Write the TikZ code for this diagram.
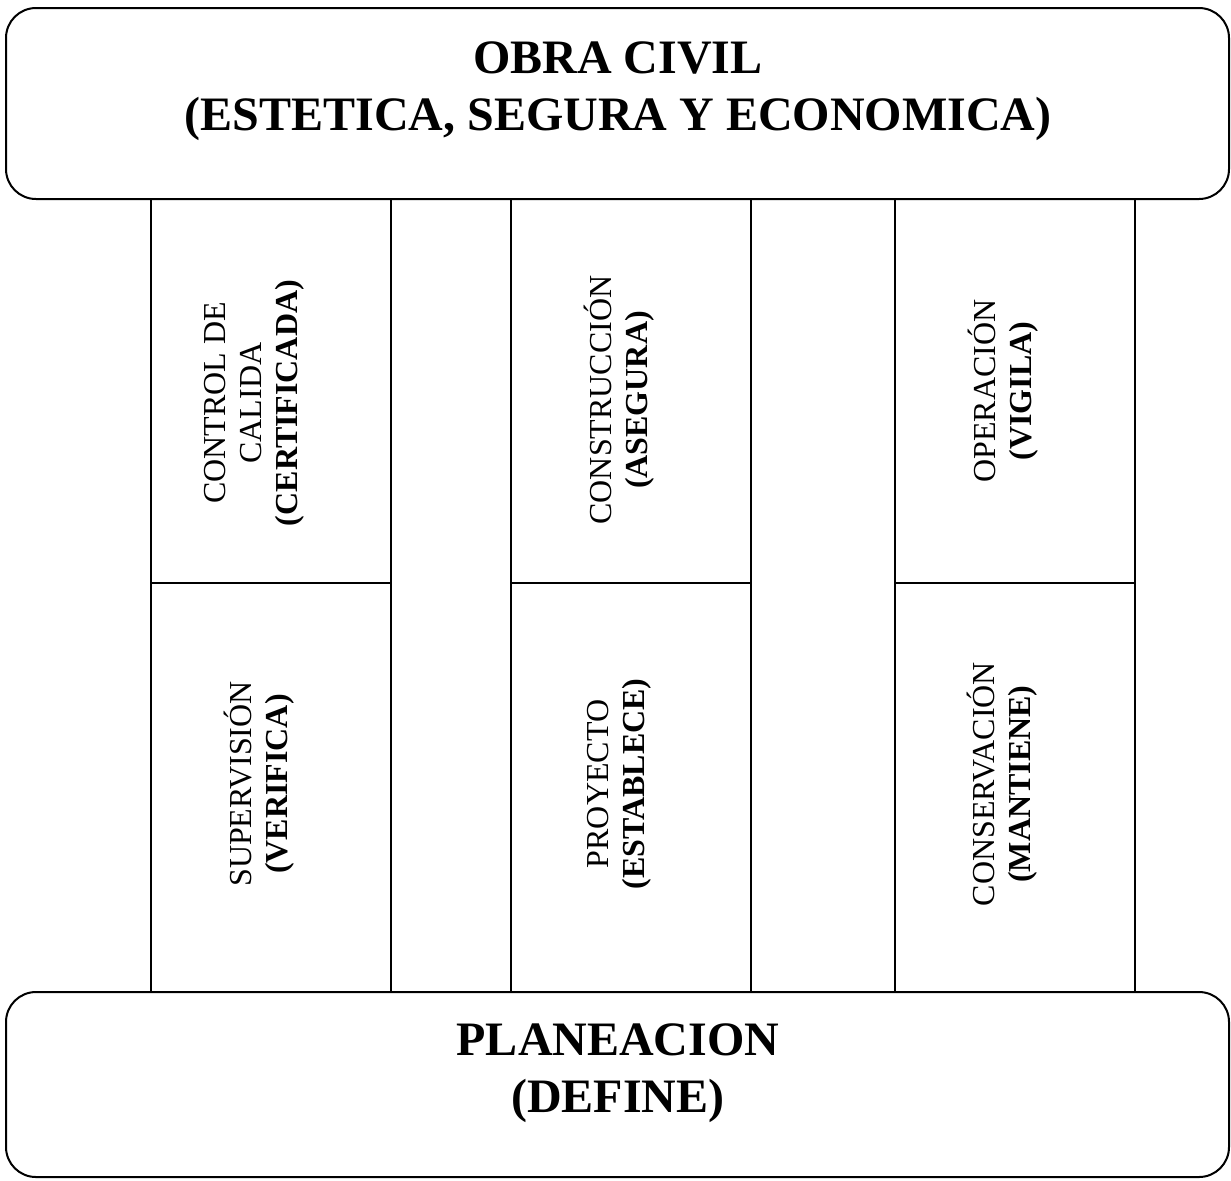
\documentclass[tikz,border=0pt]{standalone}
\usepackage{fontspec}
\setmainfont{Liberation Serif}
\begin{document}
\begin{tikzpicture}[x=0.5pt,y=-0.5pt,line width=1pt]
    \tikzset{
        titulo/.style={font=\fontsize{24}{28.5}\selectfont\bfseries,align=center},
        etapa/.style={font=\fontsize{16}{18}\selectfont,align=center,rotate=90},}
    \useasboundingbox (0,0) rectangle (1231,1180);
    \def\esquina{15pt}
    \draw [rounded corners=\esquina] (6,8) rectangle (1229,199);
    \draw [rounded corners=\esquina] (6,992) rectangle (1229,1177);
    \foreach \xa/\xb in {151/391,511/751,895/1135}{
        \draw (\xa,199) rectangle (\xb,992);
        \draw (\xa,583) -- (\xb,583);}
    \node [titulo] (obra) at (618,91) {OBRA CIVIL\\(ESTETICA, SEGURA Y ECONOMICA)};
    \node [titulo] (planeacion) at (618,1073) {PLANEACION\\(DEFINE)};
    \node [etapa] (control) at (254,403) {CONTROL DE\\CALIDA\\\textbf{(CERTIFICADA)}};
    \node [etapa] (supervision) at (259,784) {SUPERVISIÓN\\\textbf{(VERIFICA)}};
    \node [etapa] (construccion) at (619,400) {CONSTRUCCIÓN\\\textbf{(ASEGURA)}};
    \node [etapa] (proyecto) at (619,784) {PROYECTO\\\textbf{(ESTABLECE)}};
    \node [etapa] (operacion) at (1003,391) {OPERACIÓN\\\textbf{(VIGILA)}};
    \node [etapa] (conservacion) at (1002,784) {CONSERVACIÓN\\\textbf{(MANTIENE)}};
\end{tikzpicture}
\end{document}
